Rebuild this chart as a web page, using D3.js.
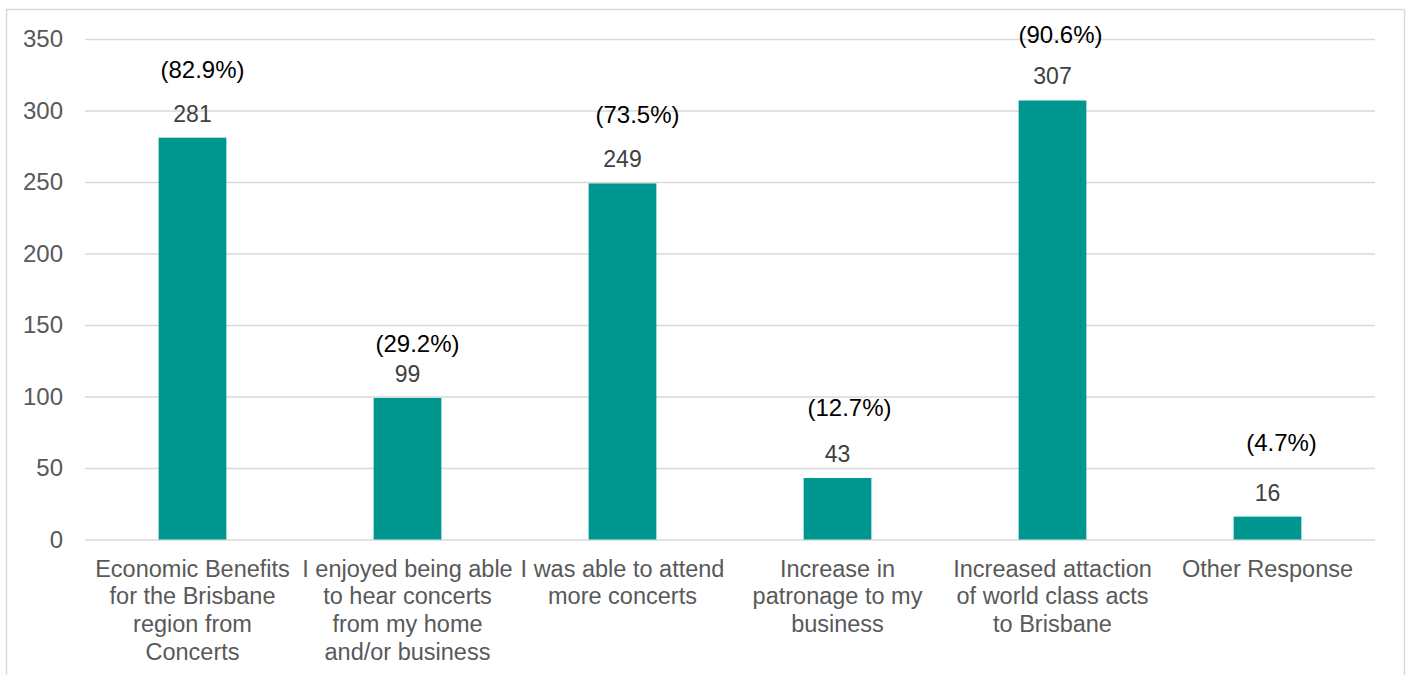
<!DOCTYPE html>
<html><head><meta charset="utf-8">
<script src="https://cdn.jsdelivr.net/npm/d3@7"></script>
<style>body{margin:0;background:#fff;} svg{display:block;font-family:"Liberation Sans",Arial,sans-serif;}</style>
</head><body>
<svg id="c" width="1411" height="675"></svg>
<script>
const categories = [
  ["Economic Benefits","for the Brisbane","region from","Concerts"],
  ["I enjoyed being able","to hear concerts","from my home","and/or business"],
  ["I was able to attend","more concerts"],
  ["Increase in","patronage to my","business"],
  ["Increased attaction","of world class acts","to Brisbane"],
  ["Other Response"]
];
const values = [281, 99, 249, 43, 307, 16];
const percentLabels = ["(82.9%)","(29.2%)","(73.5%)","(12.7%)","(90.6%)","(4.7%)"];
const yTicks = [0, 50, 100, 150, 200, 250, 300, 350];

// layout
const pctLift = [44, 30, 44, 46, 41, 50];
const pctShift = [10, 10, 15, 12, 8, 14];
const M = {left: 85, right: 1375, top: 39, bottom: 539.5};
const svg = d3.select("#c");

svg.append("rect").attr("x",6.5).attr("y",9.5).attr("width",1398).attr("height",700)
  .attr("fill","none").attr("stroke","#d9d9d9").attr("stroke-width",1.5);

const x = d3.scaleBand().domain(d3.range(values.length)).range([M.left,M.right]).paddingInner(0).paddingOuter(0);
const y = d3.scaleLinear().domain([0,350]).range([M.bottom,M.top]);

const yAxis = d3.axisLeft(y).tickValues(yTicks).tickSize(-(M.right-M.left)).tickPadding(22);
const ga = svg.append("g").attr("transform",`translate(${M.left},0)`).call(yAxis);
ga.select(".domain").remove();
ga.selectAll(".tick line").attr("stroke","#d9d9d9").attr("stroke-width",1.3);
ga.selectAll(".tick text").attr("fill","#595959").style("font-size","24px")
  .style("font-family","'Liberation Sans',Arial,sans-serif");

const bw = x.bandwidth()*0.315;
svg.append("g").selectAll("rect").data(values).join("rect")
  .attr("x",(d,i)=>x(i)+x.bandwidth()/2-bw/2)
  .attr("y",d=>y(d)).attr("width",bw).attr("height",d=>y(0)-y(d))
  .attr("fill","#009690");

svg.append("g").selectAll("text").data(values).join("text")
  .attr("x",(d,i)=>x(i)+x.bandwidth()/2).attr("y",d=>y(d)-16)
  .attr("text-anchor","middle").attr("fill","#404040").style("font-size","23px")
  .text(d=>d);

svg.append("g").selectAll("text").data(percentLabels).join("text")
  .attr("x",(d,i)=>x(i)+x.bandwidth()/2+pctShift[i]).attr("y",(d,i)=>y(values[i])-16-pctLift[i])
  .attr("text-anchor","middle").attr("fill","#000").style("font-size","24px")
  .text(d=>d);

const cg = svg.append("g").selectAll("text").data(categories).join("text")
  .attr("text-anchor","middle").attr("fill","#595959").style("font-size","23.5px");
cg.each(function(lines,i){
  d3.select(this).selectAll("tspan").data(lines).join("tspan")
    .attr("x",x(i)+x.bandwidth()/2).attr("y",(l,j)=>576.7+j*27.6).text(l=>l);
});
</script>
</body></html>
